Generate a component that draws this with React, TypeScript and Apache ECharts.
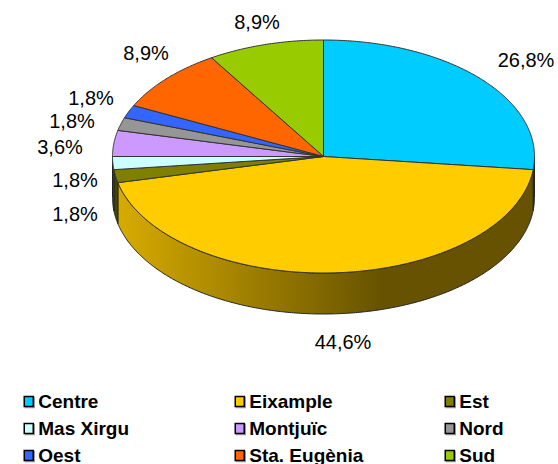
import React, { useEffect, useRef } from "react";
import * as echarts from "echarts";

const categories = ["Centre", "Eixample", "Est", "Mas Xirgu", "Montjuïc", "Nord", "Oest", "Sta. Eugènia", "Sud"];
const values = [26.8, 44.6, 1.8, 1.8, 3.6, 1.8, 1.8, 8.9, 8.9];
const labels = ["26,8%", "44,6%", "1,8%", "1,8%", "3,6%", "1,8%", "1,8%", "8,9%", "8,9%"];
const colors = ["#00ccff", "#ffcc00", "#808000", "#ccffff", "#cc99ff", "#969696", "#3366ff", "#ff6600", "#99cc00"];
// label anchor centres
const labelCenters = [[526, 60], [343, 342], [75, 214], [75, 180], [60, 147], [72, 121], [91, 98], [146, 53], [257, 22]];
const wallLight = [0.4, 0.85, 0.55, 0.4, 0.4, 0.4, 0.4, 0.4, 0.4];
const legendLefts = [23.5, 234.5, 444.5];

const CX = 323.5, CY = 156.5, RX = 211, RY = 116.5, DEPTH = 41;
const total = values.reduce((a, b) => a + b, 0);

function pt(deg: number, dy = 0): number[] {
  const r = (deg * Math.PI) / 180;
  return [CX + RX * Math.sin(r), CY - RY * Math.cos(r) + dy];
}
function arc(a0: number, a1: number, dy = 0): number[][] {
  const out: number[][] = [];
  const n = Math.max(2, Math.ceil(Math.abs(a1 - a0) * 2));
  for (let i = 0; i <= n; i++) out.push(pt(a0 + ((a1 - a0) * i) / n, dy));
  return out;
}
function shade(hex: string, f: number): string {
  const n = parseInt(hex.slice(1), 16);
  const c = [(n >> 16) & 255, (n >> 8) & 255, n & 255].map((v) => Math.round(v * f));
  return `rgb(${c[0]},${c[1]},${c[2]})`;
}

function makeRender(idx: number) {
  return (_params: any, api: any) => {
    let before = 0;
    for (let i = 0; i < idx; i++) before += values[i];
    const a0 = (before / total) * 360;
    const a1 = a0 + (api.value(0) / total) * 360;
    const children: any[] = [];
    const w0 = Math.max(a0, 90), w1 = Math.min(a1, 270);
    if (w1 > w0) {
      const fill = new echarts.graphic.LinearGradient(
        CX - RX, 0, CX + 60, 0,
        [
          { offset: 0, color: shade(colors[idx], wallLight[idx]) },
          { offset: 1, color: shade(colors[idx], 0.4) },
        ],
        true
      );
      children.push({
        type: "polygon",
        z2: 1,
        shape: { points: [...arc(w0, w1), ...arc(w1, w0, DEPTH)] },
        style: { fill, stroke: "#222", lineWidth: 1 },
      });
    }
    children.push({
      type: "polygon",
      z2: 2,
      shape: { points: [[CX, CY], ...arc(a0, a1)] },
      style: { fill: colors[idx], stroke: "#333", lineWidth: 1 },
    });
    children.push({
      type: "text",
      z2: 3,
      style: {
        x: labelCenters[idx][0],
        y: labelCenters[idx][1],
        text: labels[idx],
        fill: "#000",
        font: "20px 'Liberation Sans'",
        align: "center",
        verticalAlign: "middle",
      },
    });
    return { type: "group", children };
  };
}

export default function App() {
  const ref = useRef<HTMLDivElement>(null);
  useEffect(() => {
    document.body.style.margin = "0";
    const chart = echarts.init(ref.current!, null, { renderer: "svg" });
    const legendItem = (i: number) => ({
      name: categories[i],
      itemStyle: {
        color: colors[i],
        borderColor: "#000",
        borderWidth: 1.5,
        shadowColor: "#999",
        shadowOffsetX: 1,
        shadowOffsetY: 1,
        shadowBlur: 0,
      },
    });
    chart.setOption({
      animation: false,
      backgroundColor: "#fff",
      legend: legendLefts.map((left, c) => ({
        orient: "vertical",
        left,
        top: 392,
        height: 120,
        padding: 0,
        itemWidth: 9,
        itemHeight: 10,
        itemGap: 8,
        icon: "rect",
        selectedMode: false,
        textStyle: {
          fontFamily: "Liberation Sans",
          fontWeight: "bold",
          fontSize: 19,
          color: "#000",
          lineHeight: 17,
        },
        data: [0, 1, 2].map((r) => legendItem(r * 3 + c)),
      })),
      series: categories.map((name, i) => ({
        type: "custom",
        name,
        coordinateSystem: "none",
        silent: true,
        z: i,
        itemStyle: { color: colors[i] },
        data: [[values[i]]],
        renderItem: makeRender(i),
      })),
    });
    return () => chart.dispose();
  }, []);
  return <div ref={ref} style={{ width: 558, height: 464 }} />;
}
